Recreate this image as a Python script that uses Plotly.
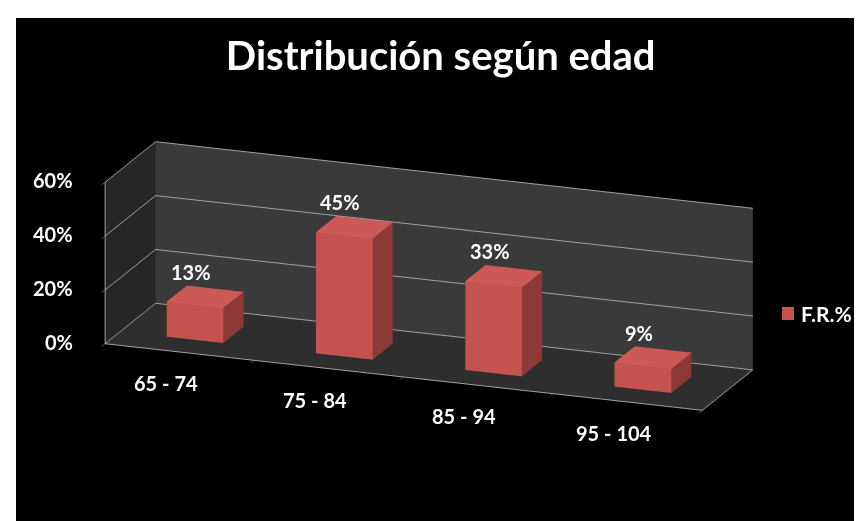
import plotly.graph_objects as go

# ---- data ----
categories = ["65 - 74", "75 - 84", "85 - 94", "95 - 104"]
values = [0.13, 0.45, 0.33, 0.09]
value_labels = ["13%", "45%", "33%", "9%"]
z_tick_vals = [0, 0.2, 0.4, 0.6]
z_tick_text = ["0%", "20%", "40%", "60%"]
series_name = "F.R.%"
title_text = "Distribución según edad"

# ---- style ----
RED_FRONT = "#C4524F"
RED_TOP = "#CC5956"
RED_SIDE = "#8C3A38"
RED_DARK = "#6E2C2A"
GRID = "#A0A0A0"
FONT = "Lato"
BAR_W = 0.38
BAR_D = 0.4
DEPTH = 1.0
X_MIN, X_MAX = -0.5, len(categories) - 0.5

fig = go.Figure()

for i, v in enumerate(values):
    x0, x1 = i - BAR_W / 2, i + BAR_W / 2
    y0, y1 = (DEPTH - BAR_D) / 2, (DEPTH + BAR_D) / 2
    xs = [x0, x1, x1, x0, x0, x1, x1, x0]
    ys = [y0, y0, y1, y1, y0, y0, y1, y1]
    zs = [0, 0, 0, 0, v, v, v, v]
    tri = [
        (0, 1, 2, RED_DARK), (0, 2, 3, RED_DARK),      # bottom
        (4, 5, 6, RED_TOP), (4, 6, 7, RED_TOP),        # top
        (0, 1, 5, RED_FRONT), (0, 5, 4, RED_FRONT),    # front
        (3, 2, 6, RED_DARK), (3, 6, 7, RED_DARK),      # back
        (0, 3, 7, RED_DARK), (0, 7, 4, RED_DARK),      # left
        (1, 2, 6, RED_SIDE), (1, 6, 5, RED_SIDE),      # right
    ]
    fig.add_trace(go.Mesh3d(
        x=xs, y=ys, z=zs,
        i=[t[0] for t in tri], j=[t[1] for t in tri], k=[t[2] for t in tri],
        facecolor=[t[3] for t in tri],
        flatshading=True,
        lighting=dict(ambient=1.0, diffuse=0.0, specular=0.0, roughness=1.0, fresnel=0.0),
        hoverinfo="skip", showlegend=False, showscale=False,
    ))

label_font = dict(family=FONT, size=20, color="white", weight="bold")
scene_annotations = []
# data labels above the bars
for i, (v, t) in enumerate(zip(values, value_labels)):
    scene_annotations.append(dict(
        x=i, y=(DEPTH - BAR_D) / 2, z=v, text=t, showarrow=False,
        xanchor="center", yanchor="middle", xshift=-4, yshift=33, font=label_font))
# category labels below the front edge of the floor
for i, c in enumerate(categories):
    scene_annotations.append(dict(
        x=i, y=0, z=0, text=c, showarrow=False,
        xanchor="center", yanchor="middle", xshift=-14, yshift=-31, font=label_font))
# value-axis labels left of the front wall edge
for zv, zt in zip(z_tick_vals, z_tick_text):
    scene_annotations.append(dict(
        x=X_MIN, y=0, z=zv, text=zt, showarrow=False,
        xanchor="right", yanchor="middle", xshift=-30, yshift=2, font=label_font))

axis_common = dict(
    showspikes=False, zeroline=False, title=dict(text=""),
    gridcolor=GRID, gridwidth=2,
    linecolor=GRID, linewidth=2, showline=True,
    showticklabels=False,
)

fig.update_layout(
    width=862, height=521,
    margin=dict(l=0, r=0, t=0, b=0),
    paper_bgcolor="white",
    showlegend=False,
    title=dict(text=title_text, x=0.502, xanchor="center", y=0.907, yanchor="middle",
               font=dict(family=FONT, size=40, color="white", weight="bold")),
    shapes=[
        dict(type="rect", xref="paper", yref="paper", x0=8 / 862, x1=1.2,
             y0=-0.2, y1=1 - 10 / 521, fillcolor="black", line=dict(width=0),
             layer="below"),
        # legend key
        dict(type="rect", xref="paper", yref="paper", x0=774 / 862, x1=786 / 862,
             y0=1 - 312 / 521, y1=1 - 299 / 521, fillcolor=RED_FRONT,
             line=dict(width=0)),
    ],
    annotations=[
        dict(text=series_name, xref="paper", yref="paper", x=791 / 862, y=1 - 305 / 521,
             xanchor="left", yanchor="middle", showarrow=False,
             font=dict(family=FONT, size=21, color="white", weight="bold")),
    ],
    scene=dict(
        domain=dict(x=[0, 0.977], y=[0.0076, 0.9636]),
        bgcolor="rgba(0,0,0,0)",
        aspectmode="manual",
        aspectratio=dict(x=2.56, y=0.58, z=0.68),
        camera=dict(
            eye=dict(x=1.313, y=-3.517, z=1.175),
            center=dict(x=0, y=0, z=0),
            up=dict(x=0, y=0, z=1),
            projection=dict(type="orthographic"),
        ),
        annotations=scene_annotations,
        xaxis=dict(axis_common, range=[X_MIN, X_MAX],
                   tickvals=[k + 0.5 for k in range(-1, len(categories))],
                   showgrid=False, showbackground=True, backgroundcolor="#262626",
                   ticks="outside", ticklen=8, tickcolor=GRID),
        yaxis=dict(axis_common, range=[0, DEPTH], showgrid=False,
                   showbackground=True, backgroundcolor="#3A3A3A", ticks=""),
        zaxis=dict(axis_common, range=[0, 0.6], tickvals=z_tick_vals,
                   showgrid=True, showbackground=True, backgroundcolor="#2E2E2E",
                   ticks="outside", ticklen=6, tickcolor=GRID),
    ),
)

fig.write_html("out.html")
